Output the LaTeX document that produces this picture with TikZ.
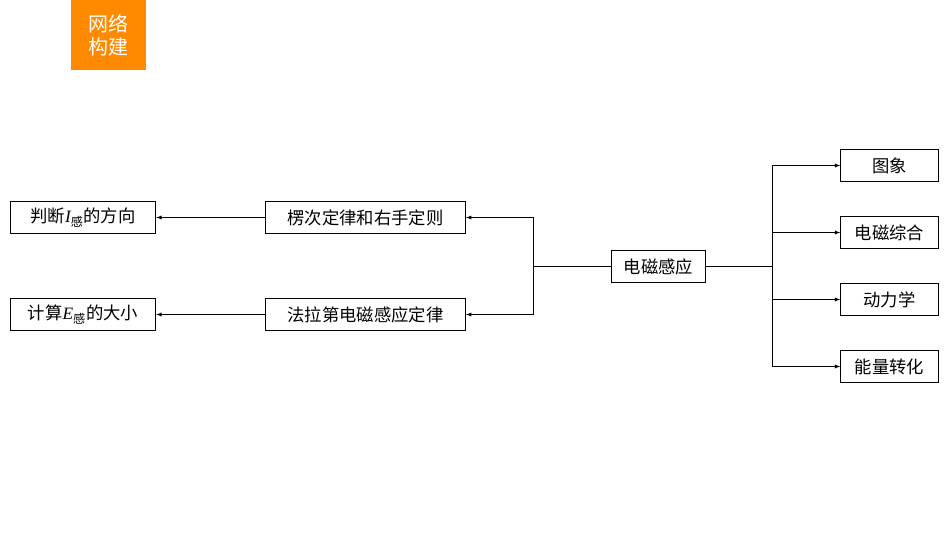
\documentclass[tikz,border=0pt]{standalone}
\usepackage{fontspec}
\newfontfamily\cjk{Noto Sans CJK SC}
\setmainfont{Liberation Serif}
\usetikzlibrary{positioning}

\begin{document}
\begin{tikzpicture}[x=0.75pt, y=-0.75pt, font=\cjk\fontsize{13}{15}\selectfont]
  \tikzset{topicbox/.style={draw, thick, inner sep=0pt, minimum height=24.5pt}}
  \tikzset{ptr/.style={-latex, thin}}
  \newcommand\sub[1]{\textsubscript{\cjk #1}}

  \useasboundingbox (0, 0) rectangle (950, 535);
  \fill[orange!80!yellow!90!red] (71, 0) rectangle (146, 70);
  \node[white, align=center, font=\cjk\fontsize{15}{17}\selectfont] (tag) at (108.5, 35) {网络\\构建};

  % centre
  \node[topicbox, minimum width=71pt] (emi) at (658.5, 266.5) {电磁感应};

  % left branch
  \node[topicbox, minimum width=150pt] (lenz) at (365.5, 217.5) {楞次定律和右手定则};
  \node[topicbox, minimum width=150pt] (faraday) at (365.5, 314.5) {法拉第电磁感应定律};
  \node[topicbox, minimum width=109pt] (dir) at (83, 217.5) {判断{\rmfamily\itshape I}\sub{感}的方向};
  \node[topicbox, minimum width=109pt] (mag) at (83, 314.5) {计算{\rmfamily\itshape E}\sub{感}的大小};
  \coordinate (lj) at (533, 266.5);
  \draw (emi.west) -- (lj);
  \draw[ptr] (lj) |- (lenz.east);
  \draw[ptr] (lj) |- (faraday.east);
  \draw[ptr] (lenz) -- (dir);
  \draw[ptr] (faraday) -- (mag);

  % right branch
  \coordinate (rj) at (772, 266.5);
  \draw (emi.east) -- (rj);
  \foreach \name/\txt/\yy in {img/图象/165.5, comb/电磁综合/232.5, dyn/动力学/299.5, energy/能量转化/366.5}{
    \node[topicbox, minimum width=73pt] (\name) at (889.5, \yy) {\txt};
    \draw[ptr] (rj) |- (\name.west);
  }
\end{tikzpicture}
\end{document}
